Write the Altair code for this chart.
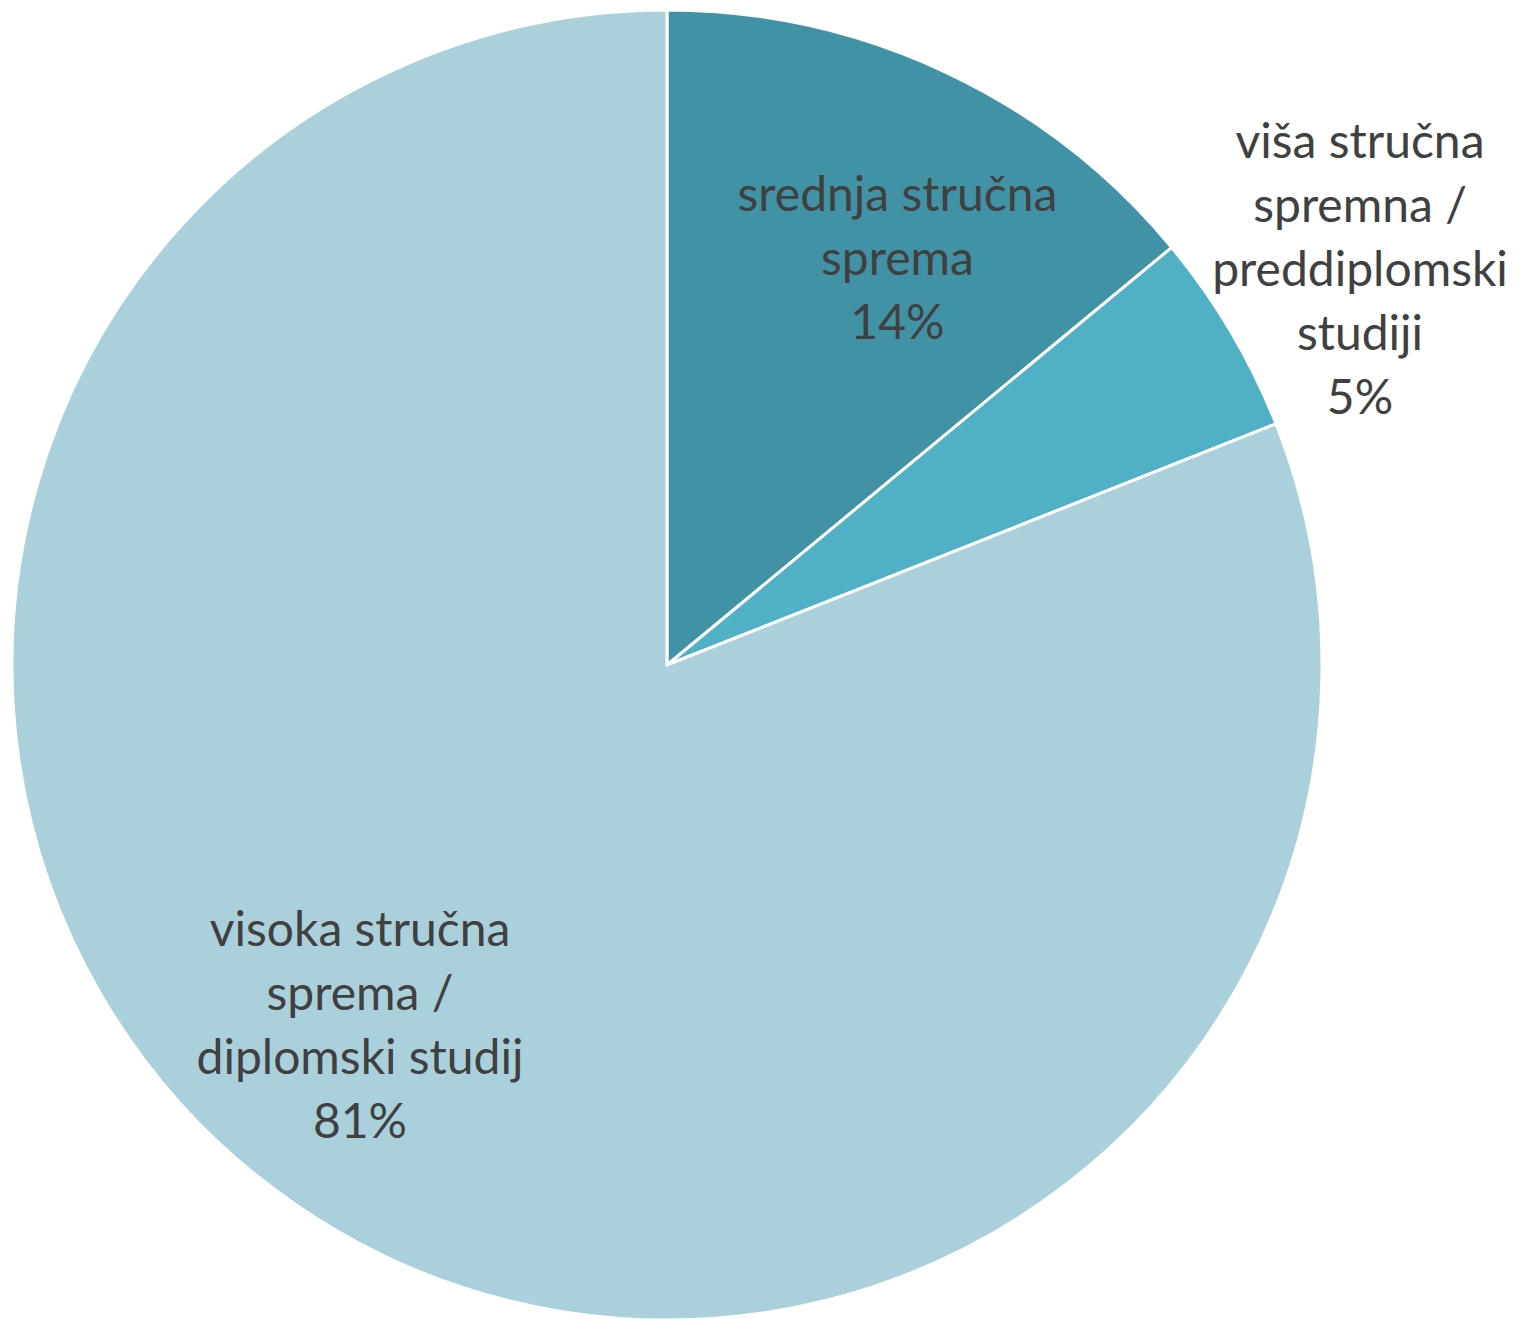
import altair as alt
import pandas as pd

categories = [
    "srednja stručna sprema",
    "viša stručna spremna / preddiplomski studiji",
    "visoka stručna sprema / diplomski studij",
]
values = [14, 5, 81]
label_lines = [
    ["srednja stručna", "sprema", "14%"],
    ["viša stručna", "spremna /", "preddiplomski", "studiji", "5%"],
    ["visoka stručna", "sprema /", "diplomski studij", "81%"],
]
colors = ["#4292A5", "#50B1C6", "#AAD1DB"]

df = pd.DataFrame({
    "category": categories,
    "value": values,
    "idx": list(range(len(categories))),
    "label": label_lines,
})

FONT = "Lato"
FS = 48
TEXT_COLOR = "#404040"

base = alt.Chart(df)

arcs = base.mark_arc(radius=655, stroke="white", strokeWidth=3).encode(
    theta=alt.Theta("value:Q", stack=True),
    color=alt.Color("category:N", scale=alt.Scale(domain=categories, range=colors), legend=None),
    order=alt.Order("idx:Q"),
)

stacked = base.transform_window(
    cum="sum(value)", sort=[alt.SortField("idx")]
).transform_calculate(
    mid="datum.cum - datum.value / 2"
)

label_cfg = [
    (categories[0], 466, 32, -46),
    (categories[1], 797, 7, -115),
    (categories[2], 475, -40, -126),
]

texts = []
for cat, r, dx, dy in label_cfg:
    t = stacked.transform_filter(alt.datum.category == cat).mark_text(
        radius=r, dx=dx, dy=dy, font=FONT, fontSize=FS, color=TEXT_COLOR,
        align="center", baseline="middle", lineHeight=64,
    ).encode(
        theta=alt.Theta("mid:Q", scale=alt.Scale(domain=[0, 100])),
        text="label",
    )
    texts.append(t)

chart = alt.layer(arcs, *texts).properties(
    width=1318, height=1314,
    padding={"left": 0, "top": 0, "right": 185, "bottom": 0},
    autosize=alt.AutoSizeParams(type="none"),
).configure_view(stroke=None)

chart.save("out.html", embed_options={"renderer": "svg", "actions": False})
